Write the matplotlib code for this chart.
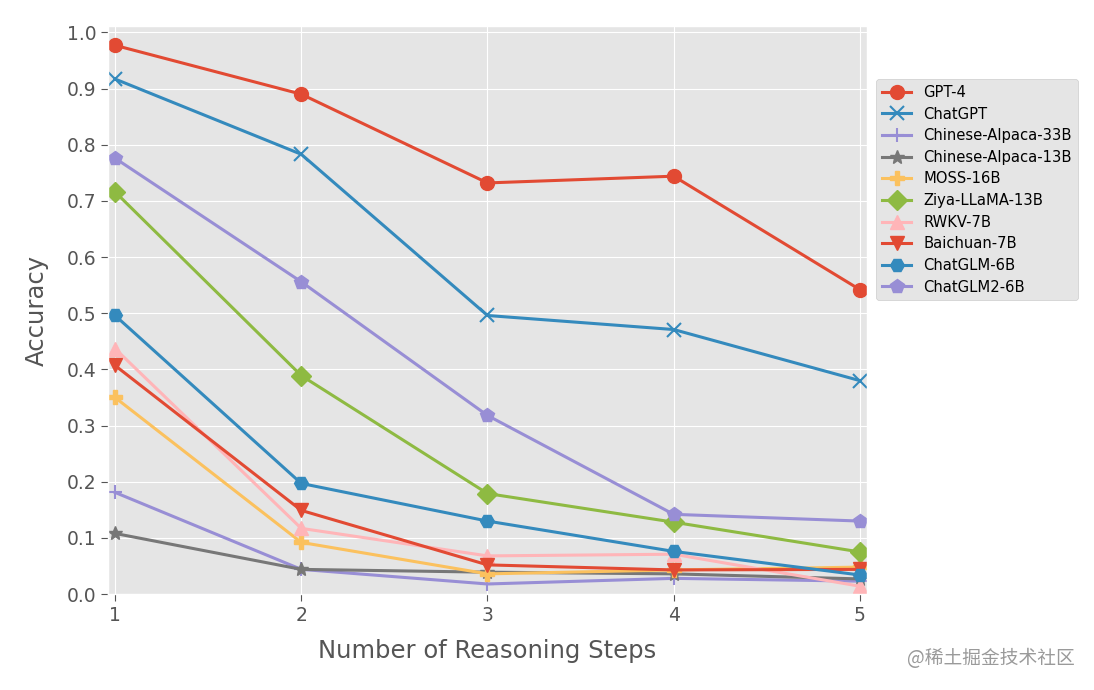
#!/usr/bin/env python3
"""Accuracy by number of reasoning steps, one line per model."""
import matplotlib

matplotlib.use("Agg")
import matplotlib.pyplot as plt  # noqa: E402

steps = [1, 2, 3, 4, 5]

models = [
    "GPT-4", "ChatGPT", "Chinese-Alpaca-33B", "Chinese-Alpaca-13B", "MOSS-16B",
    "Ziya-LLaMA-13B", "RWKV-7B", "Baichuan-7B", "ChatGLM-6B", "ChatGLM2-6B",
]

gpt4 = [0.977, 0.890, 0.732, 0.744, 0.542]
chatgpt = [0.917, 0.783, 0.496, 0.471, 0.380]
alpaca33 = [0.181, 0.044, 0.018, 0.028, 0.023]
alpaca13 = [0.108, 0.044, 0.039, 0.036, 0.027]
moss = [0.350, 0.092, 0.036, 0.043, 0.048]
ziya = [0.716, 0.389, 0.179, 0.128, 0.075]
rwkv = [0.437, 0.117, 0.068, 0.071, 0.014]
baichuan = [0.407, 0.149, 0.052, 0.043, 0.044]
chatglm = [0.496, 0.197, 0.130, 0.076, 0.034]
chatglm2 = [0.776, 0.556, 0.318, 0.142, 0.130]

series = [gpt4, chatgpt, alpaca33, alpaca13, moss, ziya, rwkv, baichuan, chatglm, chatglm2]
markers = ["o", "x", "+", "*", "P", "D", "^", "v", "H", "p"]

plt.style.use("ggplot")

fig = plt.figure(figsize=(10.94, 6.9), dpi=100)
ax = fig.add_axes([0.0987, 0.139, 0.6938, 0.823])

for name, vals, mk in zip(models, series, markers):
    ax.plot(steps, vals, marker=mk, label=name, linewidth=2.2,
            markersize=10, markeredgewidth=1.5 if mk in ("x", "+") else 1.0)

ax.set_xlim(0.962, 5.038)
ax.set_ylim(0, 1.011)
ax.set_xticks(steps)
ax.set_yticks([i / 10 for i in range(11)])
ax.tick_params(labelsize=13.5, length=5, colors="#555555")
ax.set_xlabel("Number of Reasoning Steps", fontsize=17.5, color="#555555", labelpad=10.5)
ax.set_ylabel("Accuracy", fontsize=17.5, color="#555555", labelpad=13)

ax.legend(loc="upper left", bbox_to_anchor=(1.012, 0.907), borderaxespad=0,
          fontsize=10.6, framealpha=1, edgecolor="#CCCCCC", labelspacing=0.45)

fig.text(0.982, 0.045, "@稀土掘金技术社区", ha="right", va="center",
         fontsize=13.5, color="#9a9a9a",
         family=["Noto Sans CJK SC", "DejaVu Sans"])

fig.savefig("out.png", dpi=100)
